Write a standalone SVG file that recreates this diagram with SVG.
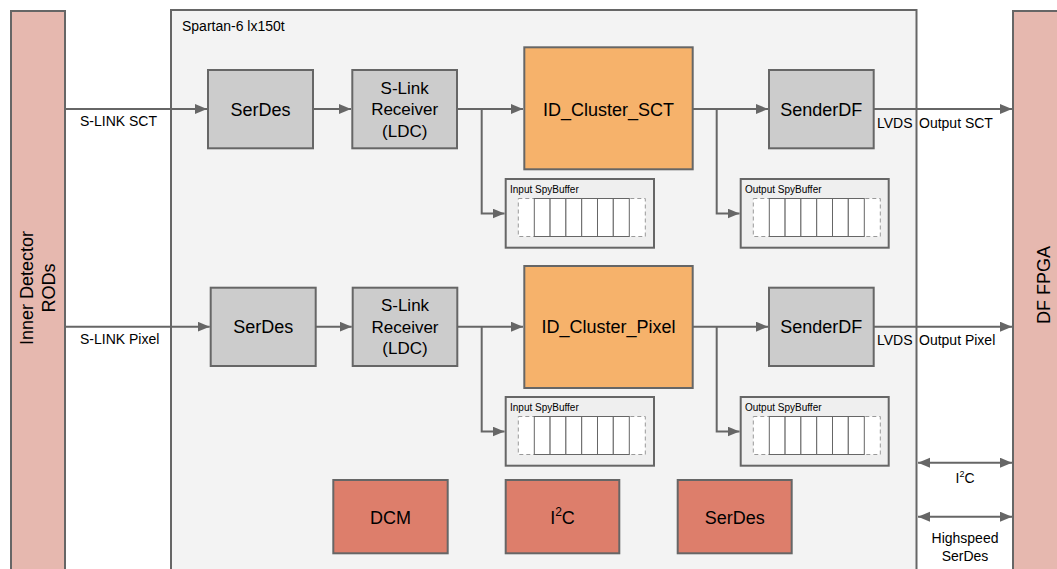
<svg xmlns="http://www.w3.org/2000/svg" width="1057" height="569" viewBox="0 0 1057 569">
<style>
text{font-family:"Liberation Sans",Arial,sans-serif;fill:#000}
.bar{fill:#e6b8af;stroke:#666;stroke-width:2}
.gray{fill:#cccccc;stroke:#666;stroke-width:2}
.orange{fill:#f6b26b;stroke:#666;stroke-width:2}
.red{fill:#dd7e6b;stroke:#666;stroke-width:2}
.spy{fill:#efefef;stroke:#666;stroke-width:2}
.dash{fill:#fff;stroke:#999;stroke-width:1;stroke-dasharray:4,3}
.cell{fill:#fff;stroke:#666;stroke-width:1}
.c{stroke:#666;stroke-width:2;fill:none}
.lbl{font-size:18px;text-anchor:middle}
.lbl2{font-size:17px;text-anchor:middle}
.sm{font-size:14px}
.tiny{font-size:10px}
</style>
<defs>
<marker id="ah" markerUnits="userSpaceOnUse" markerWidth="13" markerHeight="11" refX="12" refY="5" orient="auto-start-reverse">
<path d="M0,0 L12,5 L0,10 z" fill="#666"/>
</marker>
<g id="cells">
<rect class="dash" x="0" y="0" width="127" height="38"/>
<rect class="cell" x="16" y="0" width="15.8" height="38"/>
<rect class="cell" x="31.8" y="0" width="15.8" height="38"/>
<rect class="cell" x="47.6" y="0" width="15.8" height="38"/>
<rect class="cell" x="63.4" y="0" width="15.8" height="38"/>
<rect class="cell" x="79.2" y="0" width="15.8" height="38"/>
<rect class="cell" x="95" y="0" width="16" height="38"/>
</g>
</defs>

<g id="inner-detector">
<rect class="bar" x="11" y="11" width="54" height="570"/>
<text class="lbl" transform="translate(38,288) rotate(-90)"><tspan x="0" y="-5">Inner Detector</tspan><tspan x="0" y="17">RODs</tspan></text>
</g>

<g id="df-fpga">
<rect class="bar" x="1013" y="11" width="60" height="570"/>
<text class="lbl" transform="translate(1043,285) rotate(-90)" x="0" y="7">DF FPGA</text>
</g>

<g id="spartan">
<rect x="171" y="10" width="745.5" height="580" fill="#f3f3f3" stroke="#666" stroke-width="2"/>
<text class="sm" x="182" y="31" font-size="13">Spartan-6 lx150t</text>
</g>

<g id="connectors">
<line class="c" x1="65" y1="109" x2="207" y2="109" marker-end="url(#ah)"/>
<line class="c" x1="313" y1="109" x2="351" y2="109" marker-end="url(#ah)"/>
<line class="c" x1="457" y1="109" x2="523" y2="109" marker-end="url(#ah)"/>
<polyline class="c" points="481.7,109 481.7,213.5 504.5,213.5" marker-end="url(#ah)"/>
<line class="c" x1="692.7" y1="109" x2="768" y2="109" marker-end="url(#ah)"/>
<polyline class="c" points="716.7,109 716.7,213.5 739.5,213.5" marker-end="url(#ah)"/>
<line class="c" x1="873.7" y1="109" x2="1012" y2="109" marker-end="url(#ah)"/>

<line class="c" x1="65" y1="326.7" x2="209.7" y2="326.7" marker-end="url(#ah)"/>
<line class="c" x1="315.7" y1="326.7" x2="351.7" y2="326.7" marker-end="url(#ah)"/>
<line class="c" x1="457.3" y1="326.7" x2="523" y2="326.7" marker-end="url(#ah)"/>
<polyline class="c" points="481.7,326.7 481.7,431.5 504.5,431.5" marker-end="url(#ah)"/>
<line class="c" x1="692.7" y1="326.7" x2="768" y2="326.7" marker-end="url(#ah)"/>
<polyline class="c" points="716.7,326.7 716.7,431.5 739.5,431.5" marker-end="url(#ah)"/>
<line class="c" x1="873.7" y1="326.7" x2="1012" y2="326.7" marker-end="url(#ah)"/>

<line class="c" x1="918" y1="462.7" x2="1012" y2="462.7" marker-start="url(#ah)" marker-end="url(#ah)"/>
<line class="c" x1="918" y1="516.7" x2="1012" y2="516.7" marker-start="url(#ah)" marker-end="url(#ah)"/>

<text class="sm" x="80" y="126">S-LINK SCT</text>
<text class="sm" x="80" y="344">S-LINK Pixel</text>
<text class="sm" x="877" y="128">LVDS</text>
<text class="sm" x="919" y="128">Output SCT</text>
<text class="sm" x="877" y="345">LVDS</text>
<text class="sm" x="919" y="345">Output Pixel</text>
<text class="sm" x="965" y="483" text-anchor="middle">I<tspan font-size="9" dy="-6">2</tspan><tspan dy="6">C</tspan></text>
<text class="sm" x="965" y="543" text-anchor="middle">Highspeed</text>
<text class="sm" x="965" y="561" text-anchor="middle">SerDes</text>
</g>

<g id="serdes-sct">
<rect class="gray" x="208" y="70" width="105" height="78.3"/>
<text class="lbl" x="260.5" y="115.5">SerDes</text>
</g>
<g id="slink-sct">
<rect class="gray" x="352.3" y="70" width="104.7" height="78.3"/>
<text class="lbl2" x="404.7" y="93.5">S-Link</text>
<text class="lbl2" x="404.7" y="115">Receiver</text>
<text class="lbl2" x="404.7" y="136.5">(LDC)</text>
</g>
<g id="idcluster-sct">
<rect class="orange" x="524.3" y="47.3" width="168.4" height="122"/>
<text class="lbl" x="608.5" y="115.5">ID_Cluster_SCT</text>
</g>
<g id="sender-sct">
<rect class="gray" x="769" y="70" width="104.7" height="78.3"/>
<text class="lbl" x="821.3" y="115.5">SenderDF</text>
</g>
<g id="inspy-sct">
<rect class="spy" x="505.7" y="179" width="148.3" height="68.7"/>
<text class="tiny" x="510" y="193">Input SpyBuffer</text>
<use href="#cells" x="518.3" y="198.5"/>
</g>
<g id="outspy-sct">
<rect class="spy" x="740.7" y="179" width="148" height="68.7"/>
<text class="tiny" x="745" y="193">Output SpyBuffer</text>
<use href="#cells" x="753.3" y="198.5"/>
</g>

<g id="serdes-pixel">
<rect class="gray" x="210.7" y="287.7" width="105" height="78.3"/>
<text class="lbl" x="263.2" y="333">SerDes</text>
</g>
<g id="slink-pixel">
<rect class="gray" x="352.7" y="287.7" width="104.6" height="78.3"/>
<text class="lbl2" x="405" y="311">S-Link</text>
<text class="lbl2" x="405" y="332.5">Receiver</text>
<text class="lbl2" x="405" y="354">(LDC)</text>
</g>
<g id="idcluster-pixel">
<rect class="orange" x="524.3" y="266" width="168.4" height="122"/>
<text class="lbl" x="608.5" y="333">ID_Cluster_Pixel</text>
</g>
<g id="sender-pixel">
<rect class="gray" x="769" y="287.7" width="104.7" height="78.3"/>
<text class="lbl" x="821.3" y="333">SenderDF</text>
</g>
<g id="inspy-pixel">
<rect class="spy" x="505.7" y="397" width="148.3" height="68.7"/>
<text class="tiny" x="510" y="411">Input SpyBuffer</text>
<use href="#cells" x="518.3" y="416.5"/>
</g>
<g id="outspy-pixel">
<rect class="spy" x="740.7" y="397" width="148" height="68.7"/>
<text class="tiny" x="745" y="411">Output SpyBuffer</text>
<use href="#cells" x="753.3" y="416.5"/>
</g>

<g id="dcm">
<rect class="red" x="333.3" y="480" width="114.4" height="73.3"/>
<text class="lbl" x="390.5" y="524">DCM</text>
</g>
<g id="i2c">
<rect class="red" x="505.7" y="480" width="113.6" height="73.3"/>
<text class="lbl" x="562.5" y="524">I<tspan font-size="12" dy="-8">2</tspan><tspan dy="8">C</tspan></text>
</g>
<g id="serdes-bottom">
<rect class="red" x="677.7" y="480" width="114" height="73.3"/>
<text class="lbl" x="734.7" y="524">SerDes</text>
</g>
</svg>
